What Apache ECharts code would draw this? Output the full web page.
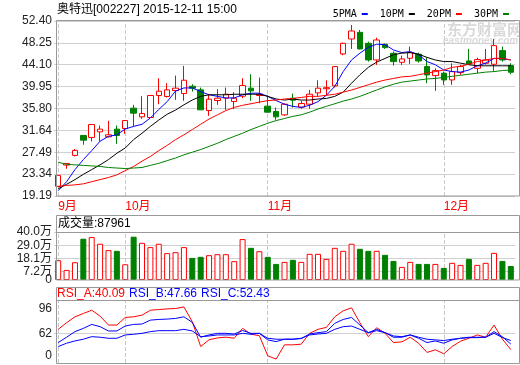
<!DOCTYPE html>
<html>
<head>
<meta charset="utf-8">
<script src="https://cdn.jsdelivr.net/npm/echarts@6/dist/echarts.min.js"></script>
<style>
  html, body { margin: 0; padding: 0; background: #fff; }
  #chart { width: 520px; height: 365px; }
</style>
</head>
<body>
<div id="chart"></div>
<script>
// trading days shown (stock resumed late Sept 2015)
const dates = [
  '2015-09-21', '2015-09-22', '2015-09-23', '2015-09-24', '2015-09-25', '2015-09-28', '2015-09-29', '2015-09-30',
  '2015-10-08', '2015-10-09', '2015-10-12', '2015-10-13', '2015-10-14', '2015-10-15', '2015-10-16', '2015-10-19',
  '2015-10-20', '2015-10-21', '2015-10-22', '2015-10-23', '2015-10-26', '2015-10-27', '2015-10-28', '2015-10-29',
  '2015-10-30', '2015-11-02', '2015-11-03', '2015-11-04', '2015-11-05', '2015-11-06', '2015-11-09', '2015-11-10',
  '2015-11-11', '2015-11-12', '2015-11-13', '2015-11-16', '2015-11-17', '2015-11-18', '2015-11-19', '2015-11-20',
  '2015-11-23', '2015-11-24', '2015-11-25', '2015-11-26', '2015-11-27', '2015-11-30', '2015-12-01', '2015-12-02',
  '2015-12-03', '2015-12-04', '2015-12-07', '2015-12-08', '2015-12-09', '2015-12-10', '2015-12-11'
];

const openPrices = [21.03, 25.06, 26.89, 30.68, 30.30, 31.37, 30.43, 31.88, 32.00, 35.86, 34.21, 34.09, 38.26, 38.07, 39.20, 38.63, 40.02, 39.33, 35.41, 37.31, 37.75, 37.12, 38.13, 39.65, 38.26, 36.24, 35.23, 34.59, 37.75, 36.05, 36.61, 38.76, 39.55, 40.09, 46.15, 48.99, 50.25, 48.17, 45.01, 47.98, 46.28, 44.57, 45.33, 46.09, 43.75, 42.04, 42.49, 41.22, 42.61, 44.82, 43.43, 44.38, 44.19, 46.78, 43.94];
const closePrices = [23.11, 25.37, 27.84, 29.79, 32.76, 31.88, 30.81, 30.68, 33.52, 34.91, 34.85, 38.26, 39.08, 39.33, 39.65, 41.16, 39.65, 35.54, 37.56, 37.75, 38.51, 37.75, 40.15, 39.14, 38.51, 35.10, 34.21, 36.61, 37.37, 36.74, 38.51, 39.65, 39.75, 43.75, 48.17, 50.51, 47.10, 45.01, 48.80, 47.35, 44.70, 45.20, 46.40, 44.82, 42.17, 42.99, 41.22, 42.80, 43.75, 44.25, 45.08, 45.01, 47.73, 45.01, 42.68];
const lowPrices = [20.95, 24.36, 26.70, 28.91, 29.54, 29.54, 30.30, 29.10, 30.99, 32.38, 33.84, 34.00, 36.61, 37.90, 37.44, 37.25, 39.01, 35.50, 34.40, 36.49, 35.54, 35.67, 37.75, 37.25, 36.80, 35.00, 33.65, 34.40, 35.98, 35.73, 35.73, 38.13, 38.26, 39.80, 45.90, 47.10, 47.00, 44.70, 44.07, 47.10, 43.94, 44.07, 44.25, 44.51, 40.59, 39.14, 40.28, 40.28, 42.17, 44.10, 42.49, 44.10, 42.93, 44.70, 42.30];
const highPrices = [23.11, 25.45, 28.09, 30.68, 32.76, 32.57, 33.46, 32.57, 33.52, 36.49, 38.13, 38.30, 41.54, 40.59, 42.04, 43.88, 40.40, 39.77, 38.38, 39.46, 39.77, 38.89, 41.54, 42.30, 41.67, 38.26, 35.98, 36.80, 38.63, 37.25, 39.33, 41.16, 41.16, 43.80, 48.30, 51.64, 50.70, 48.49, 49.24, 48.10, 46.59, 45.83, 47.54, 46.40, 45.45, 43.43, 42.80, 44.38, 44.07, 47.10, 45.45, 47.10, 48.99, 47.54, 44.38];

const ma5 = [20.2, 21.9, 24.2, 26.1, 27.8, 29.6, 30.5, 30.8, 31.9, 32.4, 32.8, 34.0, 35.6, 37.1, 39.1, 39.7, 39.7, 39.0, 38.4, 38.1, 37.8, 37.8, 38.4, 38.7, 38.7, 38.1, 37.3, 36.6, 36.2, 36.0, 36.4, 37.1, 38.3, 40.0, 42.8, 45.0, 46.3, 47.4, 48.0, 47.9, 46.9, 46.4, 46.6, 46.0, 44.7, 44.1, 43.1, 42.8, 42.7, 43.1, 43.9, 44.4, 45.3, 45.3, 45.0];
const ma10 = [20.6, 21.4, 22.3, 23.3, 24.2, 25.1, 26.1, 27.3, 28.3, 29.9, 31.1, 32.4, 33.6, 34.7, 35.5, 36.5, 37.4, 38.1, 38.4, 38.4, 38.4, 38.5, 38.5, 38.5, 38.5, 38.1, 37.6, 37.4, 37.6, 37.4, 37.4, 37.6, 37.7, 38.1, 38.9, 40.6, 42.2, 43.6, 44.6, 45.3, 46.0, 46.3, 46.4, 46.1, 45.5, 45.0, 44.7, 44.7, 44.4, 44.1, 43.9, 43.9, 43.9, 43.9, 43.9];
const ma20 = [21.0, 21.2, 21.3, 21.5, 21.9, 22.3, 22.7, 23.2, 24.0, 24.8, 25.8, 26.7, 27.8, 28.8, 29.9, 30.8, 31.8, 32.8, 33.8, 34.6, 35.4, 36.0, 36.4, 36.7, 37.0, 37.3, 37.4, 37.6, 37.7, 37.9, 38.1, 38.1, 38.3, 38.5, 38.9, 39.3, 39.8, 40.3, 40.8, 41.2, 41.5, 41.8, 41.9, 42.2, 42.5, 42.8, 43.1, 43.6, 43.8, 44.2, 44.7, 45.0, 45.3, 45.3, 45.0];
const ma30 = [25.6, 25.2, 25.1, 25.0, 24.9, 24.8, 24.6, 24.5, 24.4, 24.5, 24.6, 25.0, 25.4, 25.9, 26.4, 27.0, 27.5, 28.0, 28.6, 29.2, 29.9, 30.5, 31.1, 31.8, 32.4, 33.0, 33.5, 33.9, 34.3, 34.6, 35.1, 35.7, 36.2, 36.7, 37.2, 37.6, 38.1, 38.7, 39.3, 39.9, 40.4, 40.8, 41.0, 41.2, 41.4, 41.5, 41.7, 41.9, 42.1, 42.3, 42.5, 42.7, 42.8, 43.0, 43.1];

// volume in 万
const volumes = [16.5, 8.4, 14.8, 34.4, 35.8, 30.2, 24.9, 24.3, 13.1, 36.1, 31.0, 27.4, 30.2, 22.4, 23.2, 27.4, 18.4, 19.3, 20.7, 21.5, 21.5, 15.7, 34.1, 26.8, 24.0, 19.3, 13.4, 15.1, 16.8, 15.1, 21.8, 21.8, 17.6, 26.8, 24.3, 30.2, 26.0, 24.3, 24.3, 21.0, 15.9, 10.9, 15.1, 13.4, 13.4, 13.4, 10.1, 14.3, 12.6, 17.6, 12.6, 14.3, 22.6, 15.9, 11.7];

const rsiA = [67.6, 76.5, 84.6, 89.1, 93.5, 85.5, 73.4, 73.4, 83.7, 84.6, 86.8, 93.5, 94.4, 95.3, 95.8, 98.0, 77.9, 44.3, 53.5, 56.0, 57.0, 55.5, 69.0, 61.0, 59.0, 31.8, 27.3, 46.6, 46.6, 47.5, 62.2, 67.6, 70.3, 84.6, 92.7, 96.7, 76.5, 57.7, 69.8, 62.2, 49.7, 50.6, 56.9, 48.8, 36.3, 39.9, 34.5, 44.3, 51.5, 55.5, 60.0, 56.9, 73.4, 54.2, 40.09];
const rsiB = [49.7, 56.9, 64.5, 68.9, 74.3, 71.2, 65.4, 65.4, 72.1, 74.3, 74.8, 80.1, 81.0, 81.5, 82.4, 84.6, 77.0, 56.9, 60.0, 62.2, 62.2, 61.3, 66.0, 62.2, 62.2, 53.3, 51.0, 54.2, 54.2, 55.1, 61.3, 63.1, 64.5, 75.7, 81.0, 83.7, 73.4, 63.1, 67.6, 63.1, 56.9, 56.9, 60.0, 55.5, 49.7, 51.9, 48.8, 53.3, 55.5, 56.9, 56.9, 56.9, 64.5, 57.5, 47.66];
const rsiC = [44.3, 48.8, 51.9, 54.2, 57.7, 56.9, 55.5, 55.5, 60.0, 60.9, 62.2, 64.5, 65.8, 65.8, 65.8, 67.6, 65.4, 57.7, 58.6, 60.0, 60.0, 60.0, 62.2, 60.9, 62.2, 55.5, 54.2, 54.2, 54.2, 55.5, 60.0, 61.3, 62.2, 67.6, 71.2, 72.1, 67.6, 63.1, 65.8, 63.1, 58.6, 57.7, 60.0, 56.9, 54.2, 53.3, 52.4, 54.2, 55.5, 56.4, 56.4, 56.9, 62.2, 56.5, 52.43];

const priceTicks = [19.19, 23.34, 27.49, 31.64, 35.80, 39.95, 44.10, 48.25, 52.40];
const volumeTicks = [0, 7.2, 18.1, 29.0, 40.0];
const rsiTicks = [22, 62, 96];
const rsiTickLabels = ['0', '62', '96'];

const FONT = '"Liberation Sans", "Noto Sans CJK SC", sans-serif';
const MONO = '"DejaVu Sans Mono", "Noto Sans CJK SC", monospace';
const UP = '#ff0000';
const DOWN = '#008000';

const chart = echarts.init(document.getElementById('chart'));

const candleData = dates.map((d, i) => [openPrices[i], closePrices[i], lowPrices[i], highPrices[i]]);
const volumeData = volumes.map((v, i) => {
  const up = closePrices[i] >= openPrices[i];
  return {
    value: v,
    itemStyle: up
      ? { color: '#fff', borderColor: UP, borderWidth: 1 }
      : { color: DOWN, borderColor: DOWN, borderWidth: 1 },
  };
});

const monthStart = (i) => i === 0 || dates[i].slice(5, 7) !== dates[i - 1].slice(5, 7);
const monthLines = dates.filter((d, i) => monthStart(i)).map((d) => ({ xAxis: d }));

const monthMarks = (extra) => ({
  silent: true,
  symbol: ['none', 'none'],
  z: 1,
  animation: false,
  label: { show: false },
  lineStyle: { type: 'dashed', color: '#c8c8c8', width: 1 },
  data: monthLines.concat(extra || []),
});

const grids = [
  { left: 54, width: 461, top: 21, height: 175 },
  { left: 54, width: 461, top: 232, height: 48 },
  { left: 54, width: 461, top: 301, height: 62 },
];

const xAxes = grids.map((g, gi) => ({
  type: 'category',
  gridIndex: gi,
  data: dates,
  boundaryGap: true,
  axisLine: { show: false },
  axisTick: { show: false },
  splitLine: { show: false },
  axisLabel: gi === 0 ? {
    show: true,
    interval: (idx) => monthStart(idx),
    formatter: (v) => Number(v.slice(5, 7)) + '月',
    color: UP,
    fontSize: 12,
    align: 'left',
    margin: 5,
  } : { show: false },
}));

const labelStyle = { color: '#222', fontSize: 12, margin: 2 };
const gridLine = { show: true, lineStyle: { color: '#d0d0d0', width: 1 } };
const volLabels = volumeTicks.filter((v) => v > 0);

const line = (name, data, color, xi) => ({
  name: name,
  type: 'line',
  xAxisIndex: xi,
  yAxisIndex: xi,
  data: data,
  symbol: 'none',
  showSymbol: false,
  lineStyle: { color: color, width: 1 },
  itemStyle: { color: color },
});

const option = {
  animation: false,
  textStyle: { fontFamily: FONT },
  legend: {
    data: ['5PMA', '10PM', '20PM', '30PM'],
    right: 6,
    top: 4,
    align: 'right',
    icon: 'rect',
    itemWidth: 6,
    itemHeight: 2,
    itemGap: 12,
    selectedMode: false,
    textStyle: { color: '#000', fontSize: 10, fontFamily: MONO },
  },
  grid: grids,
  xAxis: xAxes,
  yAxis: [
    {
      type: 'value', gridIndex: 0, min: 19.19, max: 52.40,
      axisLine: { show: false },
      axisTick: { show: false, customValues: priceTicks },
      axisLabel: Object.assign({ customValues: priceTicks, formatter: (v) => v.toFixed(2) }, labelStyle),
      splitLine: gridLine,
    },
    {
      type: 'value', gridIndex: 1, min: 0, max: 40,
      axisLine: { show: false },
      axisTick: { show: false, customValues: volLabels },
      axisLabel: Object.assign({ customValues: volLabels, formatter: (v) => v.toFixed(1) + '万' }, labelStyle),
      splitLine: gridLine,
    },
    {
      type: 'value', gridIndex: 2, min: 22, max: 106,
      axisLine: { show: false },
      axisTick: { show: false, customValues: rsiTicks },
      axisLabel: Object.assign({
        customValues: rsiTicks,
        formatter: (v) => {
          const i = rsiTicks.indexOf(v);
          return i === 0 ? '{lo|' + rsiTickLabels[0] + '}' : rsiTickLabels[i];
        },
        rich: { lo: { padding: [0, 0, 15, 0], fontSize: 12, color: '#222', fontFamily: FONT } },
      }, labelStyle),
      splitLine: { show: false },
    },
    {
      // zero label of the volume panel
      type: 'value', gridIndex: 1, position: 'left', offset: 0, min: 0, max: 40,
      axisLine: { show: false },
      axisTick: { show: false, customValues: [volumeTicks[0]] },
      axisLabel: Object.assign({ customValues: [volumeTicks[0]], formatter: (v) => String(v) }, labelStyle),
      splitLine: { show: false },
    },
  ],
  series: [
    {
      name: 'K',
      type: 'candlestick',
      xAxisIndex: 0,
      yAxisIndex: 0,
      data: candleData,
      barWidth: 6,
      itemStyle: { color: '#fff', color0: DOWN, borderColor: UP, borderColor0: DOWN, borderWidth: 1 },
      markLine: monthMarks(),
    },
    line('5PMA', ma5, '#0000ff', 0),
    line('10PM', ma10, '#000000', 0),
    line('20PM', ma20, '#ff0000', 0),
    line('30PM', ma30, '#008000', 0),
    {
      name: '成交量',
      type: 'bar',
      xAxisIndex: 1,
      yAxisIndex: 1,
      data: volumeData,
      barWidth: 6,
      markLine: monthMarks(),
    },
    Object.assign(line('RSI_A', rsiA, '#ff0000', 2), {
      markLine: monthMarks([{ yAxis: 62, lineStyle: { type: 'solid', color: '#d0d0d0' } }]),
    }),
    line('RSI_B', rsiB, '#0000ff', 2),
    line('RSI_C', rsiC, '#0000ff', 2),
  ],
  graphic: [
    { type: 'text', z: 0, style: { x: 447, y: 29, text: '东方财富网', fill: '#d9d9d9', font: 'bold 15px "Noto Sans CJK SC"', textVerticalAlign: 'middle' } },
    { type: 'text', z: 0, style: { x: 443, y: 41, text: 'eastmoney.com', fill: '#d9d9d9', font: 'italic bold 10px "Liberation Sans"', textVerticalAlign: 'middle' } },
    { type: 'text', style: { x: 57, y: 10, text: '奥特迅[002227] 2015-12-11 15:00', fill: '#000', font: '12px ' + FONT, textVerticalAlign: 'middle' } },
    { type: 'rect', z: 10, shape: { x: 56.5, y: 20.5, width: 463, height: 175.5 }, style: { fill: 'none', stroke: '#999', lineWidth: 1 } },
    { type: 'rect', z: 10, shape: { x: 56.5, y: 215.5, width: 463, height: 64.5 }, style: { fill: 'none', stroke: '#999', lineWidth: 1 } },
    { type: 'line', z: 10, shape: { x1: 56.5, y1: 232.5, x2: 519.5, y2: 232.5 }, style: { stroke: '#999', lineWidth: 1 } },
    { type: 'text', style: { x: 58, y: 224, text: '成交量:87961', fill: '#000', font: '12px ' + FONT, textVerticalAlign: 'middle' } },
    { type: 'rect', z: 10, shape: { x: 56.5, y: 287.5, width: 463, height: 76 }, style: { fill: 'none', stroke: '#999', lineWidth: 1 } },
    { type: 'line', z: 10, shape: { x1: 56.5, y1: 300.5, x2: 519.5, y2: 300.5 }, style: { stroke: '#999', lineWidth: 1 } },
    { type: 'text', style: { x: 57, y: 294, text: 'RSI_A:' + rsiA[rsiA.length - 1].toFixed(2), fill: '#ff0000', font: '12px ' + FONT, textVerticalAlign: 'middle' } },
    { type: 'text', style: { x: 129, y: 294, text: 'RSI_B:' + rsiB[rsiB.length - 1].toFixed(2), fill: '#0000ff', font: '12px ' + FONT, textVerticalAlign: 'middle' } },
    { type: 'text', style: { x: 201, y: 294, text: 'RSI_C:' + rsiC[rsiC.length - 1].toFixed(2), fill: '#0000ff', font: '12px ' + FONT, textVerticalAlign: 'middle' } },
  ],
};

chart.setOption(option);
</script>
</body>
</html>
